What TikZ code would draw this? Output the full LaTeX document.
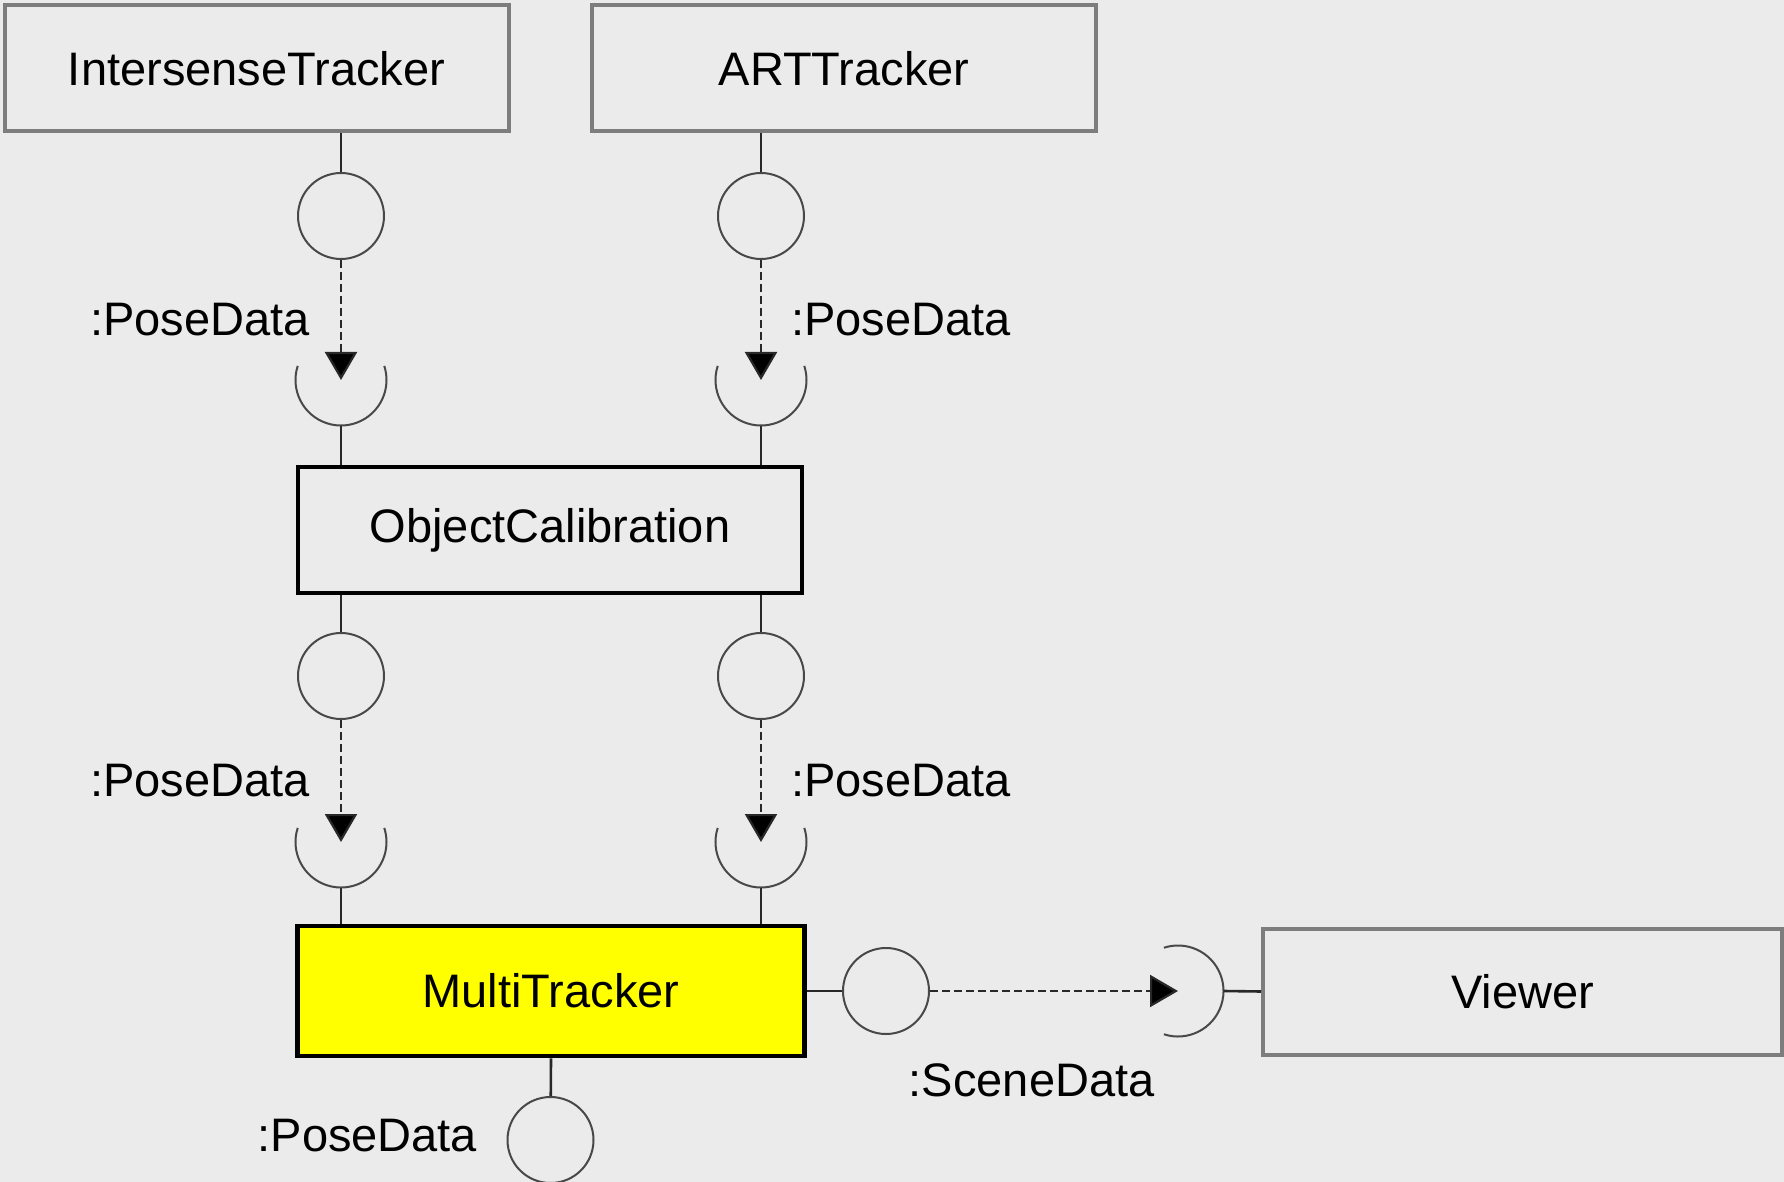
\documentclass[tikz,border=0pt]{standalone}
\usepackage{fontspec}
\setmainfont{Liberation Sans}
\usetikzlibrary{arrows.meta, positioning}
\definecolor{bgcol}{RGB}{235,235,235}
\definecolor{boxgray}{RGB}{125,125,125}
\definecolor{wiregray}{RGB}{40,40,40}
\definecolor{mtyellow}{RGB}{255,255,0}

\begin{document}
\begin{tikzpicture}[x=0.5pt, y=0.5pt,
    every node/.style={font=\fontsize{23.5pt}{28pt}\selectfont},
    comp/.style={rectangle, draw=boxgray, line width=2pt, minimum width=252pt, minimum height=63pt, inner sep=0pt},
    prov/.style={circle, draw=wiregray!85, line width=1pt, minimum size=43pt, inner sep=0pt},
    wire/.style={draw=wiregray, line width=1.3pt},
    flow/.style={draw=wiregray, line width=1.1pt, dash pattern=on 4pt off 2pt, -{Triangle[length=14pt,width=16pt,fill=black]}},
    lbl/.style={inner sep=0pt}]
    \fill[bgcol] (0,0) rectangle (1784,-1182);
    \useasboundingbox (0,0) rectangle (1784,-1182);

    % components
    \node[comp] (IT) at (256.5,-68.5) {IntersenseTracker};
    \node[comp] (ART) at (844,-68.5) {ARTTracker};
    \node[comp, draw=black, line width=1.6pt] (OC) at (550,-530) {ObjectCalibration};
    \node[comp, draw=black, line width=2.4pt, fill=mtyellow, minimum width=253.5pt, minimum height=65pt] (MT) at (551,-991) {MultiTracker};
    \node[comp, minimum width=259.5pt] (VW) at (1522.5,-991.5) {Viewer};

    % provided interfaces
    \node[prov] (p1) at (341,-216) {};
    \node[prov] (p2) at (761,-216) {};
    \node[prov] (p3) at (341,-676) {};
    \node[prov] (p4) at (761,-676) {};
    \node[prov] (p5) at (886,-991) {};
    \node[prov] (p6) at (550.5,-1140) {};

    % required interfaces
    \coordinate (s1) at (341,-380);
    \coordinate (s2) at (761,-380);
    \coordinate (s3) at (341,-842);
    \coordinate (s4) at (761,-842);
    \coordinate (s5) at (1178,-991);
    \foreach \s/\a in {s1/270, s2/270, s3/270, s4/270, s5/0}
        \draw[draw=wiregray!85, line width=1pt] ([shift={(\a-108:22.75pt)}]\s) arc[start angle=\a-108, end angle=\a+108, radius=22.75pt];

    % wires
    \draw[wire] (p1) -- (p1 |- IT.south);
    \draw[wire] (p2) -- (p2 |- ART.south);
    \draw[wire] ([yshift=-22.75pt]s1) -- (s1 |- OC.north);
    \draw[wire] ([yshift=-22.75pt]s2) -- (s2 |- OC.north);
    \draw[wire] (p3) -- (p3 |- OC.south);
    \draw[wire] (p4) -- (p4 |- OC.south);
    \draw[wire] ([yshift=-22.75pt]s3) -- (s3 |- MT.north);
    \draw[wire] ([yshift=-22.75pt]s4) -- (s4 |- MT.north);
    \draw[wire] (MT.east) -- (p5);
    \draw[wire] ([xshift=22.75pt]s5) -- (VW.west);
    \draw[wire] (MT.south) -- (p6);

    % data flows
    \draw[flow] (p1) -- node[lbl, left=15pt] {:PoseData} (s1);
    \draw[flow] (p2) -- node[lbl, right=14.5pt] {:PoseData} (s2);
    \draw[flow] (p3) -- node[lbl, left=15pt] {:PoseData} (s3);
    \draw[flow] (p4) -- node[lbl, right=14.5pt] {:PoseData} (s4);
    \draw[flow] (p5) -- node[lbl, below=36pt, pos=0.41] {:SceneData} (s5);
    \node[lbl, left=14.5pt of p6, yshift=2pt] (pd) {:PoseData};
\end{tikzpicture}
\end{document}
